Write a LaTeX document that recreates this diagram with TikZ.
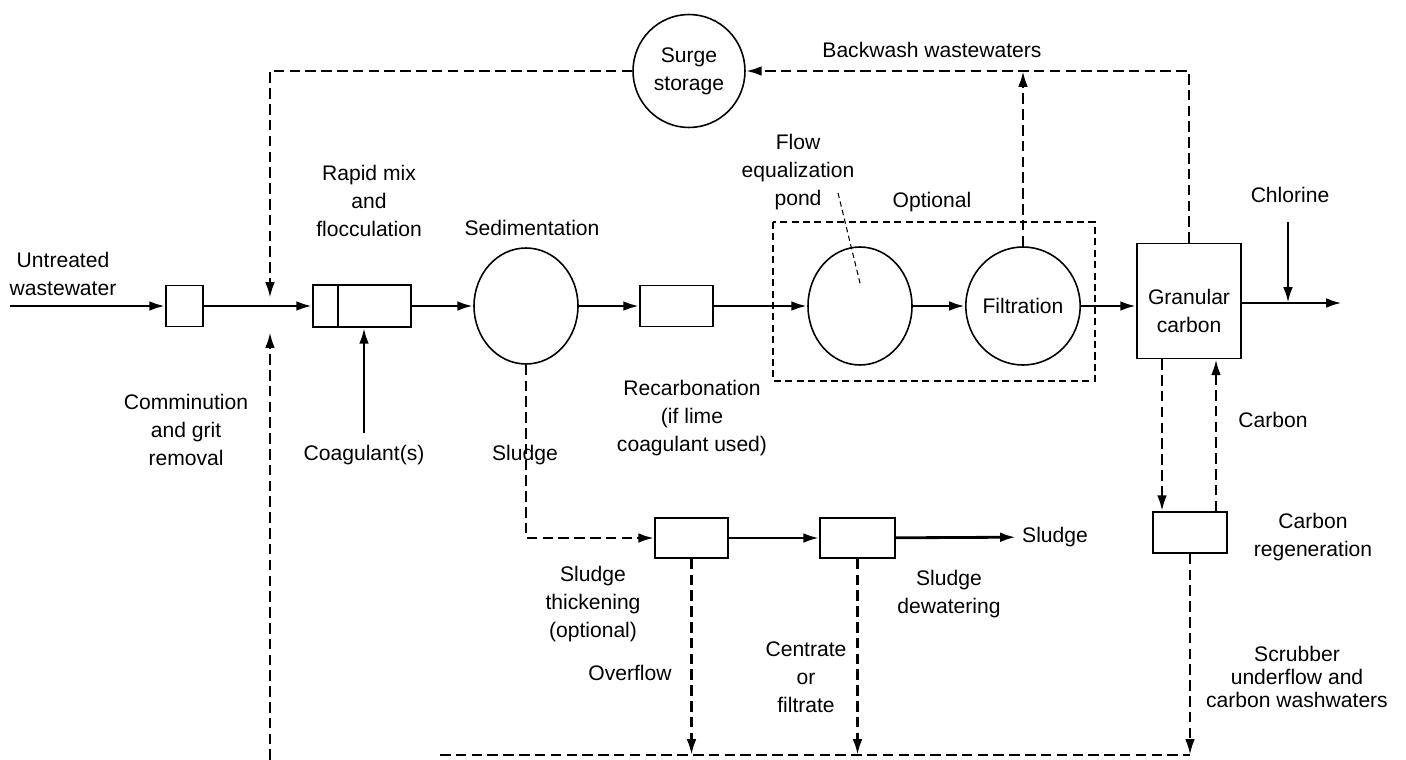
\documentclass[tikz,border=0pt]{standalone}
\usepackage{fontspec}
\setmainfont{Liberation Sans}
\usepackage{tikz}
\usetikzlibrary{arrows.meta, shapes.geometric}

\begin{document}
\begin{tikzpicture}[x=0.02cm, y=-0.02cm,
  every node/.style={font=\fontsize{12}{16}\selectfont, align=center},
  unit/.style={draw, line width=0.9pt, inner sep=0pt},
  tank/.style={draw, ellipse, line width=0.9pt, inner sep=0pt},
  flow/.style={line width=1.6pt, -{Latex[length=9pt, width=5.5pt]}},
  ret/.style={line width=1.5pt, dash pattern=on 6pt off 3pt, -{Latex[length=9pt, width=5.5pt]}},
  retline/.style={line width=1.5pt, dash pattern=on 6pt off 3pt},
  optbox/.style={line width=0.7pt, dash pattern=on 4pt off 2.5pt},
  leader/.style={line width=0.6pt, dash pattern=on 3pt off 2pt}]
\useasboundingbox (0,0) rectangle (1406,760);
% process units on the main line
\node[unit, minimum width=0.74cm, minimum height=0.82cm] (comm) at (184.5,306) {};
\node[unit, minimum width=1.96cm, minimum height=0.84cm] (mix) at (362,306) {};
\draw[line width=0.9pt] (mix.north west) ++(26,0) coordinate (mixdiv) -- (mixdiv |- mix.south);
\node[tank, minimum width=2.08cm, minimum height=2.32cm] (sed) at (526,306) {};
\node[unit, minimum width=1.46cm, minimum height=0.82cm] (recarb) at (676.5,306) {};
\node[tank, minimum width=2.08cm, minimum height=2.36cm] (feq) at (860,306) {};
\node[tank, minimum width=2.06cm, minimum height=2.36cm] (filt) at (1023,306) {Filtration};
\node[unit, minimum width=2.08cm, minimum height=2.30cm] (gc) at (1189,301) {\rule{0pt}{20pt}Granular\\carbon};
\node[tank, minimum width=2.24cm, minimum height=2.26cm] (surge) at (689,71) {Surge\\storage};
% sludge and carbon units
\node[unit, minimum width=1.46cm, minimum height=0.8cm] (thick) at (691.5,538) {};
\node[unit, minimum width=1.5cm, minimum height=0.8cm] (dewat) at (857.5,538) {};
\node[unit, minimum width=1.48cm, minimum height=0.82cm] (regen) at (1190,532.5) {};
% optional part
\draw[optbox] (773,222) rectangle (1095,381);

% labels
\node (lbin) at (63,274) {Untreated\\wastewater};
\node (lbcomm) at (186,430) {Comminution\\and grit\\removal};
\node (lbmix) at (369,201) {Rapid mix\\and\\flocculation};
\node (lbsed) at (532,228) {Sedimentation};
\node (lbcoag) at (364,455) {Coagulant(s)};
\node (lbsl) at (525,455) {Sludge};
\node (lbrec) at (692,418) {Recarbonation\\(if lime\\coagulant used)};
\node (lbfeq) at (798,172) {Flow\\equalization\\pond};
\node (lbopt) at (932,202) {Optional};
\node (lbback) at (932,50) {Backwash wastewaters};
\node (lbcl) at (1290,195) {Chlorine};
\node (lbcarb) at (1273,420) {Carbon};
\node (lbregen) at (1313,537) {Carbon\\regeneration};
\node[font=\fontsize{12}{13}\selectfont] (lbscr) at (1297,677) {Scrubber\\underflow and\\carbon washwaters};
\node (lbthick) at (593,604) {Sludge\\thickening\\(optional)};
\node (lbover) at (630,673) {Overflow};
\node (lbcent) at (806,677) {Centrate\\or\\filtrate};
\node (lbdew) at (949,594) {Sludge\\dewatering};
\node (lbslout) at (1055,537) {Sludge};

% free ends
\coordinate (in) at (10,306);
\coordinate (out) at (1342,303);
\coordinate (cl) at (1288,222);
\coordinate (coag) at (364,433);
\coordinate (jtop) at (270,298);
\coordinate (jbot) at (270,332);
\coordinate (lbot) at (270,760);
\coordinate (botl) at (440,755);
\coordinate (cdn) at (1162,0);
\coordinate (cup) at (1216,0);
\coordinate (pondtip) at (838,193);

% main flow
\draw[flow] (in) -- (comm);
\draw[flow] (comm) -- (mix);
\draw[flow] (mix) -- (sed);
\draw[flow] (sed) -- (recarb);
\draw[flow] (recarb) -- (feq);
\draw[flow] (feq) -- (filt);
\draw[flow] (filt) -- (filt -| gc.west);
\draw[flow] (gc.east |- out) -- (out);
\draw[flow] (cl) -- (cl |- out);
\draw[flow] (coag) -- (coag |- mix.south);
\draw[leader] (pondtip) -- ([yshift=13pt]feq.center);

% recycle streams
\draw[ret] (surge.west) -- (surge.west -| jtop) -- (jtop);
\draw[ret] (lbot) -- (jbot);
\draw[ret] (filt.north) -- (filt.north |- surge);
\draw[ret] (gc.north) -- (gc.north |- surge) -- (surge.east);
\draw[ret] (cdn |- gc.south) -- (cdn |- regen.north);
\draw[ret] (cup |- regen.north) -- (cup |- gc.south);
\draw[ret] (regen.south) -- (regen.south |- botl);
\draw[retline] (botl) -- (regen.south |- botl);

% sludge train
\draw[ret] (sed.south) -- (sed.south |- thick) -- (thick.west);
\draw[flow] (thick) -- (dewat);
\draw[flow] (dewat) -- (lbslout);
\draw[ret] (thick.south) -- (thick.south |- botl);
\draw[ret] (dewat.south) -- (dewat.south |- botl);
\end{tikzpicture}
\end{document}
